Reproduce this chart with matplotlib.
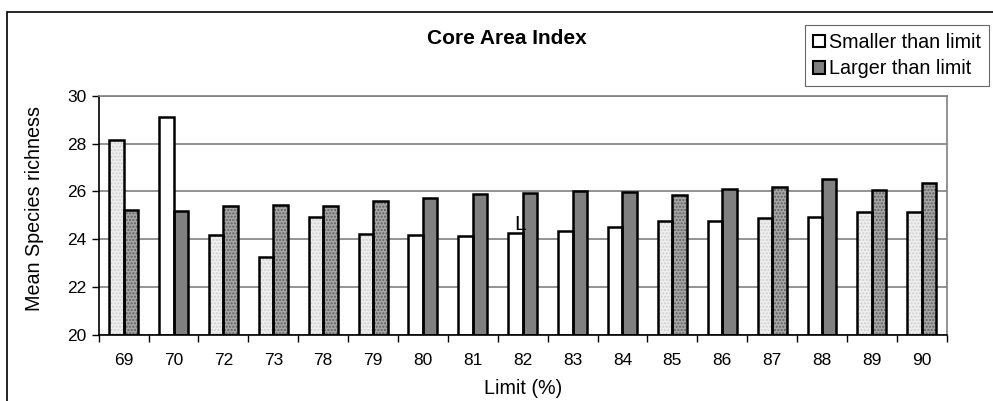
import matplotlib
matplotlib.use("Agg")
from matplotlib import pyplot as plt
from matplotlib.patches import Patch, Rectangle

plt.rcParams['font.family'] = ['Liberation Sans', 'DejaVu Sans']

# data
limits = ["69", "70", "72", "73", "78", "79", "80", "81", "82",
          "83", "84", "85", "86", "87", "88", "89", "90"]
smaller = [28.14, 29.10, 24.19, 23.27, 24.92, 24.22, 24.19, 24.14, 24.25,
           24.36, 24.51, 24.75, 24.78, 24.90, 24.93, 25.13, 25.15]
larger = [25.22, 25.17, 25.38, 25.45, 25.40, 25.59, 25.74, 25.90, 25.92,
          26.03, 25.98, 25.86, 26.10, 26.20, 26.52, 26.07, 26.36]
# which groups are drawn with the speckled fill
textured = [True, False, True, True, True, True, False, False, False,
            False, False, True, False, True, False, True, True]

W, H = 993, 401
fig = plt.figure(figsize=(W / 100, H / 100), dpi=100)
ax = fig.add_axes([98.7 / W, 1 - 335 / H, (946.7 - 98.7) / W, (335 - 95.7) / H])

bw = 0.29
x = list(range(len(limits)))
xs = [i - bw / 2 for i in x]
xl = [i + bw / 2 for i in x]

sm_face = ['#efefef' if t else 'white' for t in textured]
lg_face = ['#a6a6a6' if t else '#808080' for t in textured]
sm_hatch = ['#cfcfcf' if t else 'white' for t in textured]
lg_hatch = ['#5e5e5e' if t else '#808080' for t in textured]

bot = 20
for i in x:
    hs = '.....' if textured[i] else None
    ax.bar(xs[i], smaller[i] - bot, bw, bottom=bot, color=sm_face[i],
           edgecolor=sm_hatch[i], hatch=hs, linewidth=0, zorder=2)
    ax.bar(xl[i], larger[i] - bot, bw, bottom=bot, color=lg_face[i],
           edgecolor=lg_hatch[i], hatch=hs, linewidth=0, zorder=2)
# outlines on top
ax.bar(xs, [v - bot for v in smaller], bw, bottom=bot, fill=False,
       edgecolor='black', linewidth=1.8, zorder=3)
ax.bar(xl, [v - bot for v in larger], bw, bottom=bot, fill=False,
       edgecolor='black', linewidth=1.8, zorder=3)

ax.set_ylim(20, 30)
ax.set_xlim(-0.5, len(limits) - 0.5)
ax.set_yticks([20, 22, 24, 26, 28, 30])
ax.set_xticks(x)
ax.set_xticklabels(limits)
ax.set_xticks([i - 0.5 for i in range(len(limits) + 1)], minor=True)
ax.tick_params(axis='x', which='major', length=0, pad=13, labelsize=12.5)
ax.tick_params(axis='x', which='minor', length=5, width=1, color='black')
ax.tick_params(axis='y', length=5, width=1, labelsize=12.5, pad=4)

ax.grid(True, axis='y', color='#808080', linewidth=1.2, zorder=0)
ax.set_axisbelow(True)
for s in ('top', 'right'):
    ax.spines[s].set_color('#808080')
    ax.spines[s].set_linewidth(1.2)
for s in ('left', 'bottom'):
    ax.spines[s].set_color('black')
    ax.spines[s].set_linewidth(1.2)

ax.set_xlabel('Limit (%)', fontsize=14.2, labelpad=8)
ax.set_ylabel('Mean Species richness', fontsize=14.2)
ax.yaxis.set_label_coords(-0.064, 0.527)

# small stray mark near the 82 bars
ax.text(7.94, 24.62, 'L', fontsize=15, fontweight='light', ha='center',
        va='center', zorder=4)

fig.text(507 / W, 1 - 38 / H, 'Core Area Index', fontsize=15, fontweight='bold',
         ha='center', va='center')

handles = [Patch(facecolor='white', edgecolor='black', linewidth=1.5),
           Patch(facecolor='#808080', edgecolor='black', linewidth=1.5)]
leg = fig.legend(handles, ['Smaller than limit', 'Larger than limit'],
                 loc='upper right', bbox_to_anchor=(989 / W, 1 - 25 / H),
                 fontsize=14.2, frameon=True, fancybox=False,
                 handlelength=0.6, handleheight=0.6, handletextpad=0.2,
                 borderpad=0.4, labelspacing=0.38, borderaxespad=0)
leg.get_frame().set_edgecolor('#404040')
leg.get_frame().set_linewidth(0.8)

# outer chart border (runs off the right and bottom edges)
fig.add_artist(Rectangle((7 / W, -0.1), 1.2, (H - 12) / H + 0.1,
                         transform=fig.transFigure, fill=False,
                         edgecolor='black', linewidth=1.2))

fig.savefig('out.png', dpi=100)
